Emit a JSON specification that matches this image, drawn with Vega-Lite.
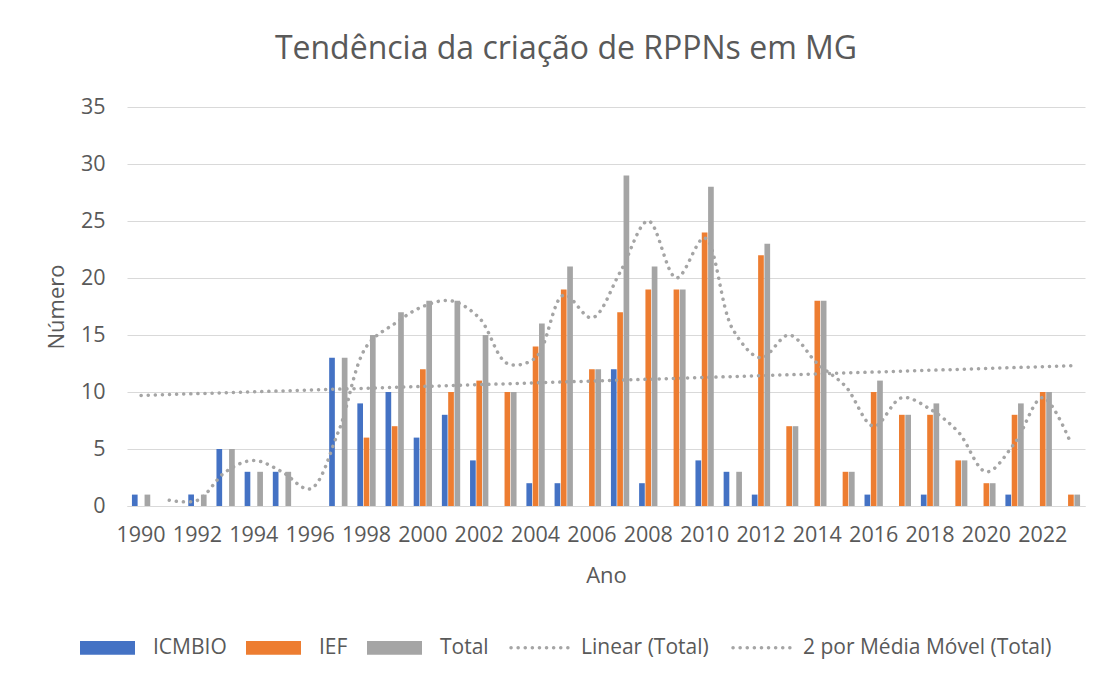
{
  "$schema": "https://vega.github.io/schema/vega-lite/v6.json",
  "autosize": {"type": "none"},
  "width": 958,
  "height": 399,
  "padding": {"left": 127, "top": 107, "right": 34, "bottom": 174},
  "background": "white",
  "title": {
    "text": "Tendência da criação de RPPNs em MG",
    "font": "Open Sans",
    "fontSize": 32,
    "fontWeight": "normal",
    "color": "#595959",
    "anchor": "middle",
    "dx": -40,
    "offset": 30
  },
  "config": {
    "font": "Open Sans",
    "view": {"stroke": null},
    "axis": {
      "labelFont": "Open Sans",
      "labelFontSize": 21.5,
      "labelColor": "#595959",
      "titleFont": "Open Sans",
      "titleFontSize": 22,
      "titleFontWeight": "normal",
      "titleColor": "#595959"
    },
    "legend": {
      "labelFont": "Open Sans",
      "labelFontSize": 21,
      "labelColor": "#595959",
      "labelLimit": 500
    }
  },
  "datasets": {
    "bars": [
      {"year": 1990, "series": "ICMBIO", "value": 1},
      {"year": 1990, "series": "Total", "value": 1},
      {"year": 1992, "series": "ICMBIO", "value": 1},
      {"year": 1992, "series": "Total", "value": 1},
      {"year": 1993, "series": "ICMBIO", "value": 5},
      {"year": 1993, "series": "Total", "value": 5},
      {"year": 1994, "series": "ICMBIO", "value": 3},
      {"year": 1994, "series": "Total", "value": 3},
      {"year": 1995, "series": "ICMBIO", "value": 3},
      {"year": 1995, "series": "Total", "value": 3},
      {"year": 1997, "series": "ICMBIO", "value": 13},
      {"year": 1997, "series": "Total", "value": 13},
      {"year": 1998, "series": "ICMBIO", "value": 9},
      {"year": 1998, "series": "IEF", "value": 6},
      {"year": 1998, "series": "Total", "value": 15},
      {"year": 1999, "series": "ICMBIO", "value": 10},
      {"year": 1999, "series": "IEF", "value": 7},
      {"year": 1999, "series": "Total", "value": 17},
      {"year": 2000, "series": "ICMBIO", "value": 6},
      {"year": 2000, "series": "IEF", "value": 12},
      {"year": 2000, "series": "Total", "value": 18},
      {"year": 2001, "series": "ICMBIO", "value": 8},
      {"year": 2001, "series": "IEF", "value": 10},
      {"year": 2001, "series": "Total", "value": 18},
      {"year": 2002, "series": "ICMBIO", "value": 4},
      {"year": 2002, "series": "IEF", "value": 11},
      {"year": 2002, "series": "Total", "value": 15},
      {"year": 2003, "series": "IEF", "value": 10},
      {"year": 2003, "series": "Total", "value": 10},
      {"year": 2004, "series": "ICMBIO", "value": 2},
      {"year": 2004, "series": "IEF", "value": 14},
      {"year": 2004, "series": "Total", "value": 16},
      {"year": 2005, "series": "ICMBIO", "value": 2},
      {"year": 2005, "series": "IEF", "value": 19},
      {"year": 2005, "series": "Total", "value": 21},
      {"year": 2006, "series": "IEF", "value": 12},
      {"year": 2006, "series": "Total", "value": 12},
      {"year": 2007, "series": "ICMBIO", "value": 12},
      {"year": 2007, "series": "IEF", "value": 17},
      {"year": 2007, "series": "Total", "value": 29},
      {"year": 2008, "series": "ICMBIO", "value": 2},
      {"year": 2008, "series": "IEF", "value": 19},
      {"year": 2008, "series": "Total", "value": 21},
      {"year": 2009, "series": "IEF", "value": 19},
      {"year": 2009, "series": "Total", "value": 19},
      {"year": 2010, "series": "ICMBIO", "value": 4},
      {"year": 2010, "series": "IEF", "value": 24},
      {"year": 2010, "series": "Total", "value": 28},
      {"year": 2011, "series": "ICMBIO", "value": 3},
      {"year": 2011, "series": "Total", "value": 3},
      {"year": 2012, "series": "ICMBIO", "value": 1},
      {"year": 2012, "series": "IEF", "value": 22},
      {"year": 2012, "series": "Total", "value": 23},
      {"year": 2013, "series": "IEF", "value": 7},
      {"year": 2013, "series": "Total", "value": 7},
      {"year": 2014, "series": "IEF", "value": 18},
      {"year": 2014, "series": "Total", "value": 18},
      {"year": 2015, "series": "IEF", "value": 3},
      {"year": 2015, "series": "Total", "value": 3},
      {"year": 2016, "series": "ICMBIO", "value": 1},
      {"year": 2016, "series": "IEF", "value": 10},
      {"year": 2016, "series": "Total", "value": 11},
      {"year": 2017, "series": "IEF", "value": 8},
      {"year": 2017, "series": "Total", "value": 8},
      {"year": 2018, "series": "ICMBIO", "value": 1},
      {"year": 2018, "series": "IEF", "value": 8},
      {"year": 2018, "series": "Total", "value": 9},
      {"year": 2019, "series": "IEF", "value": 4},
      {"year": 2019, "series": "Total", "value": 4},
      {"year": 2020, "series": "IEF", "value": 2},
      {"year": 2020, "series": "Total", "value": 2},
      {"year": 2021, "series": "ICMBIO", "value": 1},
      {"year": 2021, "series": "IEF", "value": 8},
      {"year": 2021, "series": "Total", "value": 9},
      {"year": 2022, "series": "IEF", "value": 10},
      {"year": 2022, "series": "Total", "value": 10},
      {"year": 2023, "series": "IEF", "value": 1},
      {"year": 2023, "series": "Total", "value": 1}
    ],
    "trend": [
      {"year": 1990, "series": "Linear (Total)", "value": 9.7},
      {"year": 2023, "series": "Linear (Total)", "value": 12.3},
      {"year": 1991, "series": "2 por Média Móvel (Total)", "value": 0.5},
      {"year": 1992, "series": "2 por Média Móvel (Total)", "value": 0.5},
      {"year": 1993, "series": "2 por Média Móvel (Total)", "value": 3},
      {"year": 1994, "series": "2 por Média Móvel (Total)", "value": 4},
      {"year": 1995, "series": "2 por Média Móvel (Total)", "value": 3},
      {"year": 1996, "series": "2 por Média Móvel (Total)", "value": 1.5},
      {"year": 1997, "series": "2 por Média Móvel (Total)", "value": 6.5},
      {"year": 1998, "series": "2 por Média Móvel (Total)", "value": 14},
      {"year": 1999, "series": "2 por Média Móvel (Total)", "value": 16},
      {"year": 2000, "series": "2 por Média Móvel (Total)", "value": 17.5},
      {"year": 2001, "series": "2 por Média Móvel (Total)", "value": 18},
      {"year": 2002, "series": "2 por Média Móvel (Total)", "value": 16.5},
      {"year": 2003, "series": "2 por Média Móvel (Total)", "value": 12.5},
      {"year": 2004, "series": "2 por Média Móvel (Total)", "value": 13},
      {"year": 2005, "series": "2 por Média Móvel (Total)", "value": 18.5},
      {"year": 2006, "series": "2 por Média Móvel (Total)", "value": 16.5},
      {"year": 2007, "series": "2 por Média Móvel (Total)", "value": 20.5},
      {"year": 2008, "series": "2 por Média Móvel (Total)", "value": 25},
      {"year": 2009, "series": "2 por Média Móvel (Total)", "value": 20},
      {"year": 2010, "series": "2 por Média Móvel (Total)", "value": 23.5},
      {"year": 2011, "series": "2 por Média Móvel (Total)", "value": 15.5},
      {"year": 2012, "series": "2 por Média Móvel (Total)", "value": 13},
      {"year": 2013, "series": "2 por Média Móvel (Total)", "value": 15},
      {"year": 2014, "series": "2 por Média Móvel (Total)", "value": 12.5},
      {"year": 2015, "series": "2 por Média Móvel (Total)", "value": 10.5},
      {"year": 2016, "series": "2 por Média Móvel (Total)", "value": 7},
      {"year": 2017, "series": "2 por Média Móvel (Total)", "value": 9.5},
      {"year": 2018, "series": "2 por Média Móvel (Total)", "value": 8.5},
      {"year": 2019, "series": "2 por Média Móvel (Total)", "value": 6.5},
      {"year": 2020, "series": "2 por Média Móvel (Total)", "value": 3},
      {"year": 2021, "series": "2 por Média Móvel (Total)", "value": 5.5},
      {"year": 2022, "series": "2 por Média Móvel (Total)", "value": 9.5},
      {"year": 2023, "series": "2 por Média Móvel (Total)", "value": 5.5}
    ]
  },
  "resolve": {"scale": {"x": "shared", "y": "shared"}},
  "layer": [
    {
      "data": {"name": "bars"},
      "mark": {"type": "bar"},
      "encoding": {
        "x": {
          "field": "year",
          "type": "ordinal",
          "scale": {
            "domain": [1990,1991,1992,1993,1994,1995,1996,1997,1998,1999,2000,2001,2002,2003,2004,2005,2006,2007,2008,2009,2010,2011,2012,2013,2014,2015,2016,2017,2018,2019,2020,2021,2022,2023],
            "paddingInner": 0.35,
            "paddingOuter": 0.175
          },
          "axis": {
            "title": "Ano",
            "values": [1990,1992,1994,1996,1998,2000,2002,2004,2006,2008,2010,2012,2014,2016,2018,2020,2022],
            "labelAngle": 0,
            "ticks": false,
            "domain": true,
            "domainColor": "#d9d9d9",
            "labelPadding": 18,
            "titlePadding": 20
          }
        },
        "xOffset": {
          "field": "series",
          "type": "nominal",
          "scale": {"domain": ["ICMBIO", "IEF", "Total"], "paddingInner": 0.1}
        },
        "y": {
          "field": "value",
          "type": "quantitative",
          "scale": {"domain": [0, 35]},
          "axis": {
            "title": "Número",
            "values": [0,5,10,15,20,25,30,35],
            "ticks": false,
            "domain": false,
            "gridColor": "#d9d9d9",
            "labelPadding": 22,
            "titlePadding": 12
          }
        },
        "color": {
          "field": "series",
          "type": "nominal",
          "scale": {"domain": ["ICMBIO", "IEF", "Total"], "range": ["#4472C4", "#ED7D31", "#A5A5A5"]},
          "legend": {
            "title": null,
            "orient": "none",
            "direction": "horizontal",
            "legendX": -47,
            "legendY": 513,
            "symbolType": "M-1,-0.25H1V0.25H-1Z",
            "symbolSize": 3025,
            "symbolStrokeWidth": 0,
            "labelOffset": 18,
            "columnPadding": 19
          }
        }
      }
    },
    {
      "data": {"name": "trend"},
      "mark": {"type": "line", "interpolate": "catmull-rom", "strokeWidth": 3.5, "strokeCap": "round", "color": "#A5A5A5"},
      "encoding": {
        "x": {"field": "year", "type": "ordinal", "bandPosition": 0.5},
        "y": {"field": "value", "type": "quantitative"},
        "strokeDash": {
          "field": "series",
          "type": "nominal",
          "scale": {"domain": ["Linear (Total)", "2 por Média Móvel (Total)"], "range": [[0.1, 7], [0.1, 7]]},
          "legend": {
            "title": null,
            "orient": "none",
            "direction": "horizontal",
            "legendX": 382,
            "legendY": 508,
            "symbolType": "stroke",
            "symbolSize": 3721,
            "symbolStrokeWidth": 3.5,
            "symbolStrokeColor": "#A5A5A5",
            "labelOffset": 7,
            "columnPadding": 17,
            "encode": {"symbols": {"update": {"strokeCap": {"value": "round"}}}}
          }
        }
      }
    }
  ]
}
